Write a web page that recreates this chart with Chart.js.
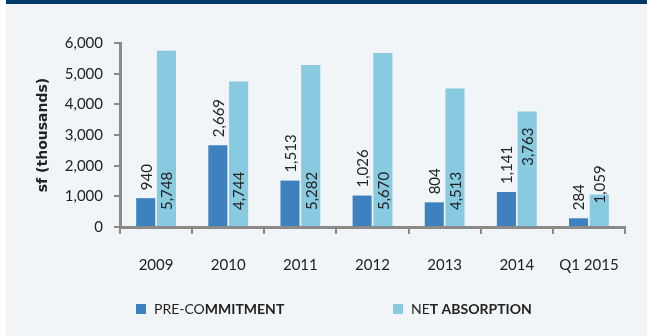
<!DOCTYPE html>
<html><head><meta charset="utf-8">
<script src="https://cdn.jsdelivr.net/npm/chart.js@4/dist/chart.umd.min.js"></script>
<style>html,body{margin:0;padding:0;background:#fff;}#wrap{position:absolute;left:0;top:0;width:647px;height:336px;}</style>
</head><body>
<div id="wrap"><canvas id="c" width="647" height="336"></canvas></div>
<script>
const categories = ['2009','2010','2011','2012','2013','2014','Q1 2015'];
const preCommitment = [940, 2669, 1513, 1026, 804, 1141, 284];
const netAbsorption = [5748, 4744, 5282, 5670, 4513, 3763, 1059];
const seriesNames = ['PRE-COMMITMENT', 'NET ABSORPTION'];
const legendBoldFrom = [6, 2];
const netLabelAnchor = ['base','base','base','base','base','top','over'];
const colors = ['#3d82be', '#88cae0'];
const yMax = 6000, yStep = 1000;
const FONT = 'Lato, "Open Sans", sans-serif';

const bgPlugin = {
  id: 'bg',
  beforeDraw(chart) {
    const ctx = chart.ctx;
    ctx.save();
    ctx.fillStyle = '#ffffff';
    ctx.fillRect(0, 0, chart.width, chart.height);
    ctx.fillStyle = '#f1f5f8';
    ctx.fillRect(6, 4, chart.width - 6, chart.height - 4);
    ctx.fillStyle = '#003a6b';
    ctx.fillRect(6, 0, chart.width - 6, 4);
    ctx.restore();
  }
};

const labelPlugin = {
  id: 'vlabels',
  afterDatasetsDraw(chart) {
    const ctx = chart.ctx;
    ctx.save();
    ctx.font = '15px ' + FONT;
    ctx.fillStyle = '#222222';
    ctx.textBaseline = 'middle';
    ctx.textAlign = 'left';
    chart.data.datasets.forEach((ds, di) => {
      const meta = chart.getDatasetMeta(di);
      meta.data.forEach((bar, i) => {
        const txt = ds.data[i].toLocaleString('en-US');
        const w = ctx.measureText(txt).width;
        let start;
        if (di === 0) {
          start = bar.y - 8;
        } else {
          const mode = netLabelAnchor[i];
          if (mode === 'base') start = bar.base - 16;
          else if (mode === 'top') start = bar.y + 16 + w;
          else start = bar.y + 9;
        }
        ctx.save();
        ctx.translate(bar.x + 1, start);
        ctx.rotate(-Math.PI / 2);
        ctx.fillText(txt, 0, 0);
        ctx.restore();
      });
    });
    ctx.restore();
  }
};

const legendPlugin = {
  id: 'customLegend',
  afterDraw(chart) {
    const ctx = chart.ctx;
    ctx.save();
    ctx.textBaseline = 'middle';
    ctx.textAlign = 'left';
    const xs = [136, 393];
    const y = 309;
    seriesNames.forEach((name, i) => {
      ctx.fillStyle = colors[i];
      ctx.fillRect(xs[i], y - 5, 10, 10);
      ctx.fillStyle = '#222222';
      const a = name.slice(0, legendBoldFrom[i]);
      const b = name.slice(legendBoldFrom[i]);
      let x = xs[i] + 18;
      ctx.font = '14px ' + FONT;
      ctx.fillText(a, x, y);
      x += ctx.measureText(a).width;
      ctx.font = 'bold 14px ' + FONT;
      ctx.fillText(b, x, y);
    });
    ctx.restore();
  }
};

new Chart(document.getElementById('c'), {
  type: 'bar',
  data: {
    labels: categories,
    datasets: [
      { label: seriesNames[0], data: preCommitment, backgroundColor: colors[0], categoryPercentage: 0.575, barPercentage: 0.92 },
      { label: seriesNames[1], data: netAbsorption, backgroundColor: colors[1], categoryPercentage: 0.575, barPercentage: 0.92 }
    ]
  },
  options: {
    responsive: false,
    animation: false,
    devicePixelRatio: 1,
    layout: { padding: { top: 43, right: 22, bottom: 40, left: 0 } },
    plugins: { legend: { display: false }, tooltip: { enabled: false } },
    scales: {
      x: {
        grid: { offset: true, drawOnChartArea: false, drawTicks: true, tickLength: 7, color: '#8a8a8a', lineWidth: 2 },
        border: { color: '#8a8a8a', width: 3 },
        ticks: { color: '#222222', font: { family: FONT, size: 15 }, padding: 22, maxRotation: 0 }
      },
      y: {
        min: 0, max: yMax,
        afterFit(scale) { scale.width = 120; },
        grid: { drawOnChartArea: false, drawTicks: true, tickLength: 6, color: '#8a8a8a', lineWidth: 2 },
        border: { color: '#8a8a8a', width: 3 },
        ticks: { stepSize: yStep, color: '#222222', font: { family: FONT, size: 15 }, padding: 11,
          callback: v => v.toLocaleString('en-US') },
        title: { display: true, text: 'sf (thousands)', color: '#222222', font: { family: '"DejaVu Sans", sans-serif', size: 14, weight: 'bold' }, padding: { top: 35, bottom: 0 } }
      }
    }
  },
  plugins: [bgPlugin, labelPlugin, legendPlugin]
});
</script>
</body></html>
